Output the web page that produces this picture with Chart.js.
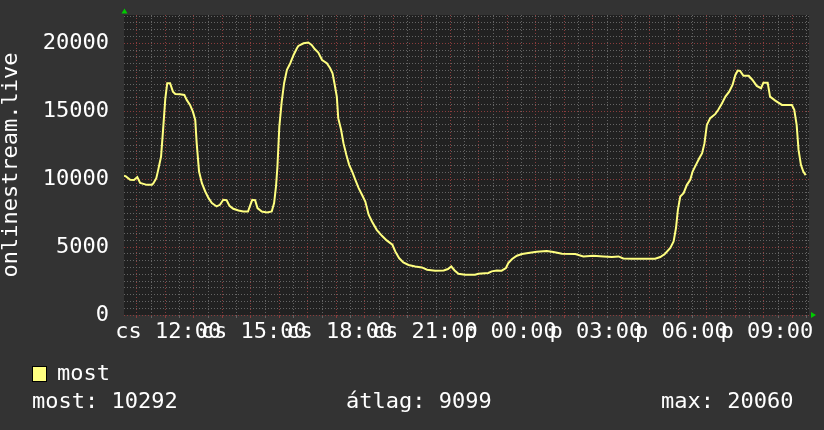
<!DOCTYPE html>
<html>
<head>
<meta charset="utf-8">
<script src="https://cdn.jsdelivr.net/npm/chart.js@4.4.1/dist/chart.umd.min.js"></script>
<style>
  html, body { margin: 0; padding: 0; background: #333333; }
  #wrap { position: relative; width: 824px; height: 430px; }
  .txt { position: absolute; font-family: "DejaVu Sans Mono", monospace; font-size: 22px; line-height: 26px; color: #ffffff; white-space: pre; }
  #swatch { position: absolute; left: 32px; top: 366px; width: 13px; height: 14px; background: #ffff80; border: 1px solid #000000; }
</style>
</head>
<body>
<div id="wrap">
  <canvas id="chart" width="824" height="430"></canvas>
  <div id="swatch"></div>
  <div class="txt" id="legendLabel" style="left:57px; top:360px;"></div>
  <div class="txt" id="statNow" style="left:32px; top:388px;"></div>
  <div class="txt" id="statAvg" style="left:346px; top:388px;"></div>
  <div class="txt" id="statMax" style="left:661px; top:388px;"></div>
</div>
<script>
// minutes after Thursday 00:00 (1440 = Friday 00:00)
const times = [633, 637, 646, 654, 661, 667, 681, 692, 695, 701,
  705, 711, 715, 720, 724, 730, 736, 741, 751, 760,
  765, 772, 778, 783, 786, 791, 797, 804, 811, 818,
  828, 835, 842, 849, 855, 863, 874, 884, 894, 899,
  903, 909, 914, 923, 934, 944, 949, 953, 956, 960,
  965, 970, 976, 983, 990, 997, 1000, 1011, 1021, 1028,
  1035, 1042, 1050, 1060, 1067, 1072, 1076, 1081, 1084, 1090,
  1095, 1101, 1107, 1114, 1120, 1127, 1134, 1141, 1148, 1155,
  1165, 1176, 1186, 1198, 1204, 1212, 1221, 1232, 1246, 1260,
  1271, 1288, 1306, 1315, 1322, 1329, 1337, 1351, 1372, 1379,
  1400, 1407, 1418, 1428, 1437, 1442, 1450, 1460, 1471, 1484,
  1502, 1523, 1537, 1555, 1583, 1600, 1621, 1642, 1660, 1674,
  1684, 1702, 1730, 1751, 1762, 1772, 1783, 1790, 1795, 1799,
  1804, 1811, 1818, 1825, 1830, 1837, 1844, 1850, 1855, 1860,
  1867, 1878, 1884, 1892, 1899, 1907, 1914, 1920, 1925, 1930,
  1937, 1948, 1956, 1965, 1974, 1979, 1988, 1993, 2004, 2018,
  2039, 2044, 2049, 2053, 2058, 2063, 2068];

const viewers = [10250, 10200, 9950, 9930, 10150, 9720, 9580, 9580, 9700, 10070,
  10680, 11660, 13500, 15950, 17060, 17060, 16440, 16270, 16250, 16200,
  15830, 15460, 14970, 14360, 12650, 10560, 9700, 9090, 8600, 8240,
  7990, 8110, 8480, 8450, 8040, 7820, 7690, 7620, 7620, 8110,
  8480, 8450, 7870, 7620, 7540, 7620, 8240, 9460, 10930, 13870,
  15710, 17060, 18040, 18530, 19140, 19630, 19800, 20000, 20060, 19880,
  19560, 19310, 18770, 18530, 18160, 17790, 17060, 16070, 14490, 13630,
  12650, 11790, 11050, 10490, 9950, 9340, 8850, 8350, 7380, 6880,
  6270, 5830, 5490, 5170, 4680, 4190, 3870, 3680, 3570, 3500,
  3330, 3260, 3280, 3380, 3570, 3280, 3040, 2960, 2960, 3040,
  3090, 3210, 3280, 3260, 3460, 3820, 4120, 4360, 4490, 4560,
  4650, 4710, 4630, 4510, 4490, 4310, 4360, 4310, 4270, 4310,
  4160, 4140, 4140, 4140, 4270, 4510, 4930, 5410, 6400, 7740,
  8720, 8970, 9580, 9950, 10560, 11050, 11540, 11910, 12650, 13990,
  14490, 14800, 15100, 15590, 16070, 16440, 16930, 17670, 17990, 17960,
  17600, 17600, 17300, 16860, 16690, 17100, 17100, 16070, 15780, 15460,
  15460, 15100, 13990, 12150, 11050, 10560, 10292];

const dayNames = ['cs', 'p'];
const seriesName = 'most';
const axisTitle = 'onlinestream.live';
const statLabels = ['most', 'átlag', 'max'];
const statValues = [10292, 9099, 20060];

const timeMin = 633, timeMax = 2075;
const yMax = 22080;

const MONO = '"DejaVu Sans Mono", monospace';
const gridMinor = '#646464';
const gridMajor = '#8a3c3c';

function timeLabel(v) {
  const day = dayNames[Math.floor(v / 1440)];
  const m = v % 1440;
  const hh = String(Math.floor(m / 60)).padStart(2, '0');
  const mm = String(m % 60).padStart(2, '0');
  return day + ' ' + hh + ':' + mm;
}

const plotBg = {
  id: 'plotBg',
  beforeDraw(chart) {
    const { ctx, chartArea: a } = chart;
    ctx.save();
    ctx.fillStyle = '#333333';
    ctx.fillRect(0, 0, chart.width, chart.height);
    ctx.fillStyle = '#212121';
    ctx.fillRect(a.left, a.top, a.right - a.left, a.bottom - a.top);
    ctx.restore();
  }
};

const arrows = {
  id: 'arrows',
  afterDraw(chart) {
    const { ctx, chartArea: a } = chart;
    ctx.save();
    ctx.fillStyle = '#00cc00';
    ctx.beginPath();
    ctx.moveTo(a.left - 2.5, a.top - 1.5);
    ctx.lineTo(a.left + 3.5, a.top - 1.5);
    ctx.lineTo(a.left + 0.5, a.top - 6.5);
    ctx.fill();
    ctx.beginPath();
    ctx.moveTo(a.right + 2, a.bottom - 3);
    ctx.lineTo(a.right + 2, a.bottom + 3);
    ctx.lineTo(a.right + 7, a.bottom);
    ctx.fill();
    ctx.restore();
  }
};

const points = times.map((t, i) => ({ x: t, y: viewers[i] }));

new Chart(document.getElementById('chart'), {
  type: 'line',
  data: {
    datasets: [{
      label: seriesName,
      data: points,
      borderColor: '#ffff80',
      borderWidth: 2,
      pointRadius: 0,
      tension: 0,
      fill: false
    }]
  },
  options: {
    responsive: false,
    animation: false,
    devicePixelRatio: 1,
    layout: { padding: { left: 0, top: 15, right: 15, bottom: 0 } },
    plugins: { legend: { display: false }, tooltip: { enabled: false } },
    scales: {
      x: {
        type: 'linear',
        min: timeMin,
        max: timeMax,
        afterBuildTicks(scale) {
          const ticks = [];
          for (let v = 660; v <= timeMax; v += 30) ticks.push({ value: v });
          scale.ticks = ticks;
        },
        afterFit(scale) {
          scale.height = 115;
          scale.paddingLeft = 0;
          scale.paddingRight = 0;
        },
        grid: {
          color: (c) => (c.tick && c.tick.value % 60 === 0) ? gridMajor : gridMinor,
          lineWidth: 1,
          drawTicks: true,
          tickLength: 3
        },
        border: { display: false, dash: [1, 2] },
        ticks: {
          autoSkip: false,
          maxRotation: 0,
          padding: 1,
          labelOffset: 3,
          color: '#ffffff',
          font: { family: MONO, size: 22 },
          callback: (v) => (v % 180 === 0) ? timeLabel(v) : ''
        }
      },
      y: {
        min: 0,
        max: yMax,
        afterBuildTicks(scale) {
          const ticks = [];
          for (let v = 0; v <= 22000; v += 500) ticks.push({ value: v });
          scale.ticks = ticks;
        },
        afterFit(scale) {
          scale.width = 124;
          scale.paddingTop = 0;
          scale.paddingBottom = 0;
        },
        grid: {
          color: (c) => (c.tick && c.tick.value % 5000 === 0) ? gridMajor : gridMinor,
          lineWidth: 1,
          drawTicks: false
        },
        border: { display: false, dash: [1, 2] },
        ticks: {
          autoSkip: false,
          padding: 15,
          color: '#ffffff',
          font: { family: MONO, size: 22 },
          callback: (v) => (v % 5000 === 0) ? String(v) : ''
        },
        title: {
          display: true,
          text: axisTitle,
          color: '#ffffff',
          padding: 0,
          font: { family: MONO, size: 22, lineHeight: 1 }
        }
      }
    }
  },
  plugins: [plotBg, arrows]
});

document.getElementById('legendLabel').textContent = seriesName;
document.getElementById('statNow').textContent = statLabels[0] + ': ' + statValues[0];
document.getElementById('statAvg').textContent = statLabels[1] + ': ' + statValues[1];
document.getElementById('statMax').textContent = statLabels[2] + ': ' + statValues[2];
</script>
</body>
</html>
